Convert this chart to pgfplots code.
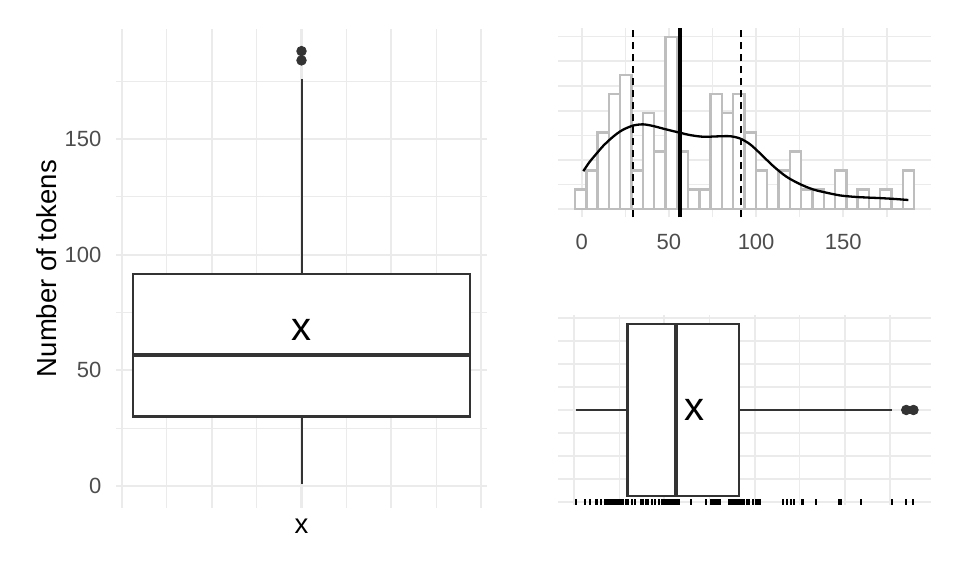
\documentclass[border=0pt]{standalone}
\usepackage{fontspec}
\setmainfont{Liberation Sans}
\usepackage{pgfplots}
\pgfplotsset{compat=1.18}
\definecolor{gridc}{HTML}{EBEBEB}
\definecolor{boxc}{HTML}{333333}
\definecolor{histc}{HTML}{BEBEBE}
\definecolor{tickc}{HTML}{4D4D4D}
\pgfdeclareplotmark{rug}{\pgfpathmoveto{\pgfqpoint{0pt}{0pt}}\pgfpathlineto{\pgfqpoint{0pt}{2.85pt}}\pgfusepathqstroke}
\pgfplotsset{
  gg/.style={
    scale only axis, anchor=south west,
    axis line style={draw=none},
    major tick length=0pt, minor tick length=0pt,
    grid=both,
    major grid style={color=gridc, line width=1.05pt},
    minor grid style={color=gridc, line width=0.6pt},
    /pgf/number format/assume math mode=true,
    ticklabel style={font=\fontsize{11pt}{13pt}\selectfont, text=tickc, inner sep=0pt},
    label style={font=\fontsize{13.75pt}{16pt}\selectfont, text=black, inner sep=0pt},
    clip=false,
  },
  meanx/.style={only marks, mark=text, text mark={x}, text mark as node=true,
    text mark style={font=\fontsize{20pt}{20pt}\selectfont, inner sep=0pt, anchor=center}},
}
\begin{document}
\begin{tikzpicture}
\useasboundingbox (0,0) rectangle (480pt,288pt);
% ---------------- left boxplot ----------------
\begin{axis}[gg,
  at={(58pt,34.15pt)}, width=185.5pt, height=239.15pt,
  xmin=-0.4125, xmax=0.4125, ymin=-9.4, ymax=197.4,
  xtick={-0.4,-0.2,0,0.2,0.4}, minor xtick={-0.3,-0.1,0.1,0.3}, xticklabels={},
  ytick={0,50,100,150}, minor ytick={25,75,125,175},
  yticklabel style={anchor=east, xshift=-7.15pt},
  ylabel={Number of tokens}, xlabel={x},
  ylabel style={at={(axis description cs:-0.1598,0.5)}, anchor=base},
  xlabel style={at={(axis description cs:0.5,-0.0545)}, anchor=base},
]
\addplot[boxc, line width=1pt] coordinates {(0,1) (0,30)};
\addplot[boxc, line width=1pt] coordinates {(0,91.5) (0,176)};
\addplot[boxc, fill=white, line width=1.15pt] coordinates {(-0.375,30) (0.375,30) (0.375,91.5) (-0.375,91.5)} -- cycle;
\addplot[boxc, line width=2.3pt] coordinates {(-0.375,56.6) (0.375,56.6)};
\addplot[only marks, mark=*, mark size=2.4pt, color=boxc] coordinates {(0,184) (0,188)};
\addplot[meanx] coordinates {(0,67.4)};
\end{axis}
% ---------------- top-right histogram ----------------
\begin{axis}[gg,
  at={(279pt,179.3pt)}, width=186.25pt, height=94.55pt,
  xmin=-13.59, xmax=200.0, ymin=-0.45, ymax=9.45,
  xtick={0,50,100,150}, minor xtick={25,75,125,175},
  ytick={0,2.5714,5.1429,7.7143}, minor ytick={1.2857,3.8571,6.4286,9}, yticklabels={},
  xticklabel style={anchor=north, yshift=-8pt},
]
\addplot[ybar interval, fill=white, draw=histc, line width=1.2pt] coordinates {
(-3.80,1) (2.68,2) (9.16,4) (15.64,6) (22.12,7) (28.60,2) (35.08,5) (41.56,3)
(48.04,9) (54.52,3) (61.00,1) (67.48,1) (73.96,6) (80.44,5) (86.92,6) (93.40,4)
(99.88,2) (106.36,0) (112.84,2) (119.32,3) (125.80,1) (132.28,1) (138.76,0)
(145.24,2) (151.72,0) (158.20,1) (164.68,0) (171.16,1) (177.64,0) (184.12,2) (190.60,2)};
\addplot[black, line width=1.15pt, smooth] coordinates {
(0.9,1.97) (4.5,2.45) (8.6,2.90) (12.4,3.30) (16.2,3.63) (20,3.92) (23.9,4.15)
(29.6,4.36) (35.3,4.42) (41.1,4.33) (48.7,4.15) (56.4,3.98) (62.1,3.86) (69.7,3.77)
(77.4,3.79) (85.0,3.80) (90.8,3.68) (96.5,3.38) (102.3,2.90) (109.9,2.23) (117.4,1.68)
(125.2,1.29) (132.8,1.01) (140.5,0.84) (148.1,0.70) (155.7,0.63) (163.4,0.59)
(171.0,0.56) (178.7,0.52) (187.3,0.46)};
\addplot[black, line width=1pt, dash pattern=on 3.5pt off 2.5pt] coordinates {(29.6,-0.45) (29.6,9.45)};
\addplot[black, line width=1pt, dash pattern=on 3.5pt off 2.5pt] coordinates {(91.2,-0.45) (91.2,9.45)};
\addplot[black, line width=2.2pt] coordinates {(56.5,-0.45) (56.5,9.45)};
\end{axis}
% ---------------- bottom-right boxplot ----------------
\begin{axis}[gg,
  at={(279pt,35.6pt)}, width=186.25pt, height=94.8pt,
  xmin=-8.86, xmax=197.43, ymin=-0.4125, ymax=0.4125,
  xtick={0,50,100,150}, minor xtick={25,75,125,175}, xticklabels={},
  ytick={-0.4,-0.2,0,0.2,0.4}, minor ytick={-0.3,-0.1,0.1,0.3}, yticklabels={},
]
\addplot[boxc, line width=1pt] coordinates {(1,0) (29.7,0)};
\addplot[boxc, line width=1pt] coordinates {(91.5,0) (176,0)};
\addplot[boxc, fill=white, line width=1.15pt] coordinates {(29.7,-0.375) (91.5,-0.375) (91.5,0.375) (29.7,0.375)} -- cycle;
\addplot[boxc, line width=2.3pt] coordinates {(56.5,-0.375) (56.5,0.375)};
\addplot[only marks, mark=*, mark size=2.4pt, color=boxc] coordinates {(184,0) (188,0)};
\addplot[meanx] coordinates {(67,0)};
\addplot[only marks, mark=rug, black, line width=1pt] table[row sep=\\] {
x y\\ 1 -0.4125\\ 6 -0.4125\\ 9 -0.4125\\ 12 -0.4125\\ 13 -0.4125\\ 15 -0.4125\\ 17 -0.4125\\
18 -0.4125\\ 19 -0.4125\\ 20 -0.4125\\ 21 -0.4125\\ 22 -0.4125\\ 23 -0.4125\\
24 -0.4125\\ 25 -0.4125\\ 26 -0.4125\\ 26 -0.4125\\ 27 -0.4125\\ 29 -0.4125\\ 30 -0.4125\\
32 -0.4125\\ 34 -0.4125\\ 37 -0.4125\\ 38 -0.4125\\ 40 -0.4125\\ 41 -0.4125\\ 43 -0.4125\\
45 -0.4125\\ 47 -0.4125\\ 49 -0.4125\\ 50 -0.4125\\ 51 -0.4125\\ 51 -0.4125\\ 52 -0.4125\\
53 -0.4125\\ 54 -0.4125\\ 54 -0.4125\\ 55 -0.4125\\ 56 -0.4125\\ 57 -0.4125\\ 57 -0.4125\\
58 -0.4125\\ 65 -0.4125\\ 73 -0.4125\\ 76 -0.4125\\ 77 -0.4125\\ 78 -0.4125\\ 79 -0.4125\\
80 -0.4125\\ 81 -0.4125\\ 86 -0.4125\\ 86 -0.4125\\ 87 -0.4125\\ 88 -0.4125\\ 88 -0.4125\\
89 -0.4125\\ 90 -0.4125\\ 91 -0.4125\\ 92 -0.4125\\ 93 -0.4125\\ 94 -0.4125\\ 96 -0.4125\\
97 -0.4125\\ 99 -0.4125\\ 101 -0.4125\\ 102 -0.4125\\ 103 -0.4125\\ 116 -0.4125\\ 118 -0.4125\\
120 -0.4125\\ 122 -0.4125\\ 126 -0.4125\\ 127 -0.4125\\ 134 -0.4125\\ 147 -0.4125\\
148 -0.4125\\ 159 -0.4125\\ 176 -0.4125\\ 184 -0.4125\\ 188 -0.4125\\
};
\end{axis}
\end{tikzpicture}
\end{document}
